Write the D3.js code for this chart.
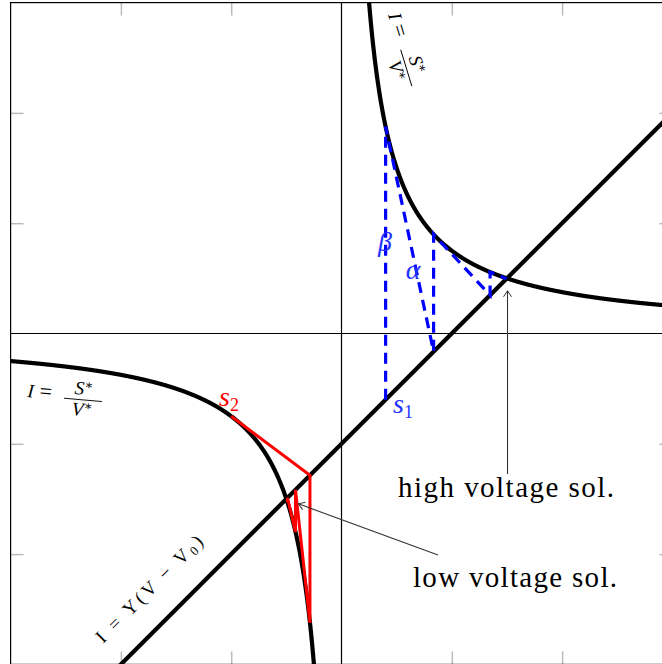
<!DOCTYPE html>
<html><head><meta charset="utf-8">
<script src="https://cdn.jsdelivr.net/npm/d3@7"></script>
<style>html,body{margin:0;padding:0;background:#fff;} svg{display:block;}</style>
</head><body>
<svg id="chart" width="662" height="664"></svg>
<script>
// Constant-power load fed through a series admittance:
// load curve I = S*/V* and source line I = Y(V - V0), with Newton iterations.
const S = 0.75;          // load power
const Y = 1;             // source admittance
const V0 = 1;            // source voltage
const domainV = [-3, 3];
const domainI = [-3, 3];
const tickValues = [-2, -1, 1, 2];

// Voltages visited by Newton steps (blue from s1 on the line, red from s2 on the curve)
const blueSteps = [0.4, 0.835, 1.347, 1.496];
const redSteps = [-1, -0.286, -0.417, -0.49];

const svg = d3.select("#chart");
const x = d3.scaleLinear().domain(domainV).range([10.6, 672.4]);
const y = d3.scaleLinear().domain(domainI).range([664.4, 2.6]);

const load = v => S / v;
const source = v => Y * (v - V0);

const defs = svg.append("defs");
defs.append("clipPath").attr("id", "plotClip").append("rect")
  .attr("x", x(domainV[0])).attr("y", y(domainI[1]))
  .attr("width", x(domainV[1]) - x(domainV[0]))
  .attr("height", y(domainI[0]) - y(domainI[1]));
defs.append("marker").attr("id", "arrowHead")
  .attr("viewBox", "-8 -6 10 12").attr("refX", 0).attr("refY", 0)
  .attr("markerWidth", 10).attr("markerHeight", 12)
  .attr("markerUnits", "userSpaceOnUse").attr("orient", "auto")
  .append("path").attr("d", "M-6,-4 L0,0 L-6,4")
  .attr("fill", "none").attr("stroke", "#333").attr("stroke-width", 1);

// inward tick marks on all four sides
const tickLen = 13;
function styleTicks(g) {
  g.select(".domain").remove();
  g.selectAll(".tick line").attr("stroke", "#bbb").attr("stroke-width", 1.5);
  g.selectAll(".tick text").remove();
}
svg.append("g").attr("transform", `translate(0,${y(domainI[1])})`)
  .call(d3.axisBottom(x).tickValues(tickValues).tickSize(tickLen).tickFormat("")).call(styleTicks);
svg.append("g").attr("transform", `translate(0,${y(domainI[0])})`)
  .call(d3.axisTop(x).tickValues(tickValues).tickSize(tickLen).tickFormat("")).call(styleTicks);
svg.append("g").attr("transform", `translate(${x(domainV[0])},0)`)
  .call(d3.axisRight(y).tickValues(tickValues).tickSize(tickLen).tickFormat("")).call(styleTicks);
svg.append("g").attr("transform", `translate(${x(domainV[1])},0)`)
  .call(d3.axisLeft(y).tickValues(tickValues).tickSize(tickLen).tickFormat("")).call(styleTicks);

// frame
svg.append("rect")
  .attr("x", x(domainV[0])).attr("y", y(domainI[1]))
  .attr("width", x(domainV[1]) - x(domainV[0]))
  .attr("height", y(domainI[0]) - y(domainI[1]))
  .attr("fill", "none").attr("stroke", "#000").attr("stroke-width", 1.2);

// axes through the origin
svg.append("line").attr("x1", x(domainV[0])).attr("x2", x(domainV[1]))
  .attr("y1", y(0)).attr("y2", y(0)).attr("stroke", "#000").attr("stroke-width", 1.2);
svg.append("line").attr("x1", x(0)).attr("x2", x(0))
  .attr("y1", y(domainI[1])).attr("y2", y(domainI[0])).attr("stroke", "#000").attr("stroke-width", 1.2);

const plot = svg.append("g").attr("clip-path", "url(#plotClip)");
const line = d3.line().x(d => x(d[0])).y(d => y(d[1]));

// load curve branches
const vMin = S / domainI[1];
const posBranch = d3.range(0, 1001).map(i => vMin * 0.95 + (domainV[1] + 0.1 - vMin * 0.95) * i / 1000);
const negBranch = posBranch.map(v => -v);
[posBranch, negBranch].forEach(br => {
  plot.append("path").datum(br.map(v => [v, load(v)]))
    .attr("d", line).attr("fill", "none").attr("stroke", "#000")
    .attr("stroke-width", 4.2).attr("stroke-linejoin", "round");
});

// source line
plot.append("path").datum(domainV.map(v => [v, source(v)]))
  .attr("d", line).attr("fill", "none").attr("stroke", "#000").attr("stroke-width", 4.2);

// Newton iterations
function newtonPath(steps, startOnCurve) {
  const pts = [];
  steps.forEach((v, i) => {
    if (i === 0) {
      if (startOnCurve) { pts.push([v, load(v)]); return; }
      pts.push([v, source(v)]);
      pts.push([v, load(v)]);
      return;
    }
    pts.push([v, source(v)]);
    if (startOnCurve || i < steps.length - 1) pts.push([v, load(v)]);
  });
  return pts;
}
plot.append("path").datum(newtonPath(blueSteps, false))
  .attr("d", line).attr("fill", "none").attr("stroke", "#0000ff")
  .attr("stroke-width", 3.2).attr("stroke-dasharray", "11,7").attr("stroke-linejoin", "miter");
plot.append("path").datum(newtonPath(redSteps, true))
  .attr("d", line).attr("fill", "none").attr("stroke", "#ff0000")
  .attr("stroke-width", 3).attr("stroke-linejoin", "miter");

// formula labels
const serif = "'Liberation Serif', 'DejaVu Serif', serif";
function loadLabel(tx, ty, rot) {
  const g = svg.append("g").attr("transform", `translate(${tx},${ty}) rotate(${rot})`)
    .attr("font-family", serif).attr("font-size", 19).attr("fill", "#000");
  g.append("text").attr("x", 0).attr("y", 0).attr("font-style", "italic").text("I");
  g.append("text").attr("x", 12).attr("y", 0).attr("font-size", 22).text("=");
  const num = g.append("text").attr("x", 56).attr("y", -7).attr("text-anchor", "middle").attr("font-style", "italic");
  num.append("tspan").text("S");
  num.append("tspan").attr("font-size", 13).attr("dy", -6).attr("font-style", "normal").text("∗");
  g.append("line").attr("x1", 37).attr("x2", 75).attr("y1", -2).attr("y2", -2)
    .attr("stroke", "#000").attr("stroke-width", 0.9);
  const den = g.append("text").attr("x", 56).attr("y", 14).attr("text-anchor", "middle").attr("font-style", "italic");
  den.append("tspan").text("V");
  den.append("tspan").attr("font-size", 13).attr("dy", -6).attr("font-style", "normal").text("∗");
}
loadLabel(388, 15, 73);
loadLabel(27, 397, 5);

const srcLabel = svg.append("text")
  .attr("transform", `translate(103,644) rotate(-45)`)
  .attr("font-family", serif).attr("font-size", 19).attr("fill", "#000")
  .attr("textLength", 143).attr("lengthAdjust", "spacing");
srcLabel.append("tspan").text("I = Y(V − V");
srcLabel.append("tspan").attr("font-size", 13).attr("dy", 3).text("0");
srcLabel.append("tspan").attr("dy", -3).text(")");

// iteration labels
function symLabel(txt, sub, px, py, color, anchor) {
  const t = svg.append("text").attr("x", px).attr("y", py)
    .attr("font-family", serif).attr("font-size", 28).attr("fill", color)
    .attr("font-style", "italic").attr("text-anchor", anchor || "start");
  t.append("tspan").text(txt);
  if (sub) t.append("tspan").attr("font-size", 18).attr("font-style", "normal").attr("dy", 5).text(sub);
}
symLabel("β", null, 385, 251, "#2233ff", "middle");
symLabel("α", null, 413, 279, "#2233ff", "middle");
symLabel("s", "1", 393, 413, "#2233ff");
symLabel("s", "2", 219, 406, "#ff0000");

// solution annotations
const hiV = blueSteps[blueSteps.length - 1];
svg.append("line").attr("x1", x(hiV) + 1).attr("y1", 474)
  .attr("x2", x(hiV) + 1).attr("y2", y(source(hiV)) + 12)
  .attr("stroke", "#333").attr("stroke-width", 1.1).attr("marker-end", "url(#arrowHead)");
const loV = redSteps[redSteps.length - 1];
svg.append("line").attr("x1", 438).attr("y1", 555)
  .attr("x2", x(loV) + 11).attr("y2", y(source(loV)) + 6)
  .attr("stroke", "#333").attr("stroke-width", 1.1).attr("marker-end", "url(#arrowHead)");

svg.append("text").attr("x", 398).attr("y", 497)
  .attr("font-family", serif).attr("font-size", 29).attr("fill", "#000")
  .attr("textLength", 216).attr("lengthAdjust", "spacing").text("high voltage sol.");
svg.append("text").attr("x", 413).attr("y", 587)
  .attr("font-family", serif).attr("font-size", 29).attr("fill", "#000")
  .attr("textLength", 204).attr("lengthAdjust", "spacing").text("low voltage sol.");
</script>
</body></html>
